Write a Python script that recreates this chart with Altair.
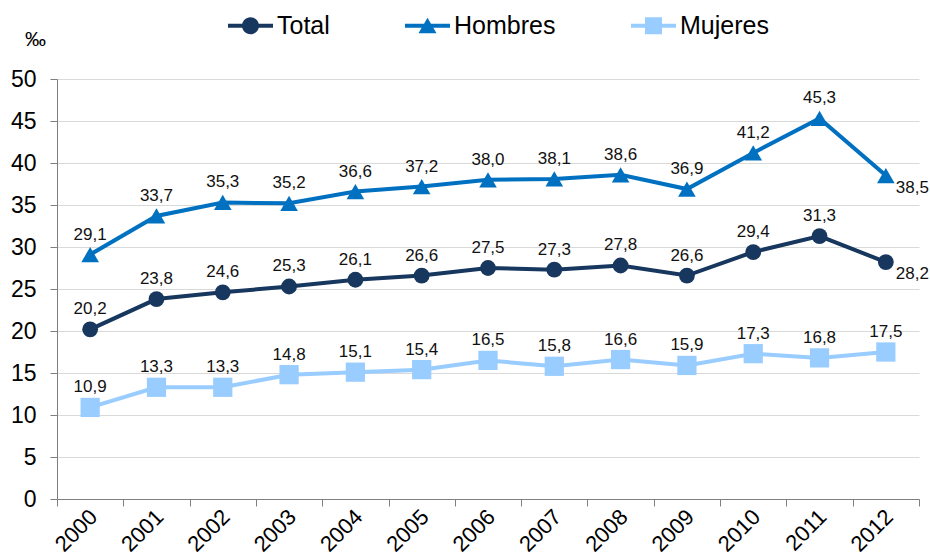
import altair as alt
import pandas as pd

# Tasa por mil, 2000-2012
years = ["2000", "2001", "2002", "2003", "2004", "2005", "2006",
         "2007", "2008", "2009", "2010", "2011", "2012"]
total = [20.2, 23.8, 24.6, 25.3, 26.1, 26.6, 27.5, 27.3, 27.8, 26.6, 29.4, 31.3, 28.2]
hombres = [29.1, 33.7, 35.3, 35.2, 36.6, 37.2, 38.0, 38.1, 38.6, 36.9, 41.2, 45.3, 38.5]
mujeres = [10.9, 13.3, 13.3, 14.8, 15.1, 15.4, 16.5, 15.8, 16.6, 15.9, 17.3, 16.8, 17.5]

series = ["Total", "Hombres", "Mujeres"]
colors = ["#17375E", "#0070C0", "#99CCFF"]
shapes = ["circle", "triangle-up", "square"]

# points whose value label sits below-right instead of above
labels_right = [("Total", "2012"), ("Hombres", "2012")]

FONT = "Liberation Sans"

rows = []
for name, values in zip(series, [total, hombres, mujeres]):
    for year, v in zip(years, values):
        rows.append({
            "serie": name,
            "anio": year,
            "valor": v,
            "pos": "right" if (name, year) in labels_right else "above",
        })
df = pd.DataFrame(rows)

# legend glyphs: a short line with the series marker on top
t = 0.089
bar = f"M-1,-{t}H1V{t}H-1Z "
r = 0.378
legend_paths = [
    bar + f"M{r},0A{r},{r},0,1,1,-{r},0A{r},{r},0,1,1,{r},0Z",
    bar + "M0,-0.36L0.4,0.33L-0.4,0.33Z",
    bar + f"M-{r},-{r}H{r}V{r}H-{r}Z",
]

x_enc = alt.X(
    "anio:N",
    sort=years,
    scale=alt.Scale(paddingInner=0, paddingOuter=0),
    axis=alt.Axis(
        title=None,
        labelAngle=-45,
        labelAlign="right",
        labelBaseline="middle",
        labelFont=FONT,
        labelFontSize=22,
        labelColor="#000000",
        labelPadding=7,
        labelOffset=3,
        tickBand="extent",
        tickSize=7,
        tickColor="#7F7F7F",
        domainColor="#7F7F7F",
        grid=False,
    ),
)

y_enc = alt.Y(
    "valor:Q",
    scale=alt.Scale(domain=[0, 50], nice=False),
    axis=alt.Axis(
        title="‰",
        titleAngle=0,
        titleX=-22,
        titleY=-40,
        titleAlign="center",
        titleBaseline="middle",
        titleFont=FONT,
        titleFontSize=21,
        titleFontWeight="normal",
        titleColor="#000000",
        values=list(range(0, 51, 5)),
        labelFont=FONT,
        labelFontSize=23,
        labelColor="#000000",
        labelPadding=14,
        tickSize=7,
        tickColor="#7F7F7F",
        domainColor="#7F7F7F",
        grid=True,
        gridColor="#D9D9D9",
        gridWidth=1,
    ),
)

color_plain = alt.Color("serie:N", scale=alt.Scale(domain=series, range=colors), legend=None)

base = alt.Chart(df).encode(x=x_enc, y=y_enc)

lines = base.mark_line(strokeWidth=4).encode(color=color_plain, detail="serie:N")

points = base.mark_point(filled=True, opacity=1, size=250).encode(
    color=color_plain,
    shape=alt.Shape("serie:N", scale=alt.Scale(domain=series, range=shapes), legend=None),
    size=alt.Size("serie:N", scale=alt.Scale(domain=series, range=[250, 370, 265]), legend=None),
)

label_expr = "replace(format(datum.valor, '.1f'), '.', ',')"

labels_above = base.transform_filter("datum.pos == 'above'").transform_calculate(
    etiqueta=label_expr
).mark_text(dy=-20, font=FONT, fontSize=17, color="#111111").encode(text="etiqueta:N")

labels_side = base.transform_filter("datum.pos == 'right'").transform_calculate(
    etiqueta=label_expr
).mark_text(align="left", dx=10, dy=12, font=FONT, fontSize=17, color="#111111").encode(
    text="etiqueta:N"
)

legend_layer = base.transform_filter("datum.valor < 0").mark_point(
    filled=True, opacity=1, size=2025
).encode(
    color=alt.Color(
        "serie:N",
        scale=alt.Scale(domain=series, range=colors),
        legend=alt.Legend(
            orient="none",
            legendX=171,
            legendY=-76,
            direction="horizontal",
            title=None,
            symbolSize=2025,
            symbolStrokeWidth=0,
            symbolOpacity=1,
            labelFont=FONT,
            labelFontSize=25,
            labelColor="#000000",
            labelOffset=4,
            columnPadding=75,
            padding=0,
        ),
    ),
    shape=alt.Shape("serie:N", scale=alt.Scale(domain=series, range=legend_paths)),
)

chart = (
    alt.layer(lines, points, labels_above, labels_side, legend_layer)
    .resolve_scale(color="independent", shape="independent", size="independent")
    .properties(
        width=862,
        height=420,
        autosize=alt.AutoSizeParams(type="none"),
        padding={"left": 57, "top": 79, "right": 11, "bottom": 59},
        background="#FFFFFF",
    )
    .configure_view(stroke=None)
)

chart.save("out.html", embed_options={"renderer": "svg", "actions": False})
